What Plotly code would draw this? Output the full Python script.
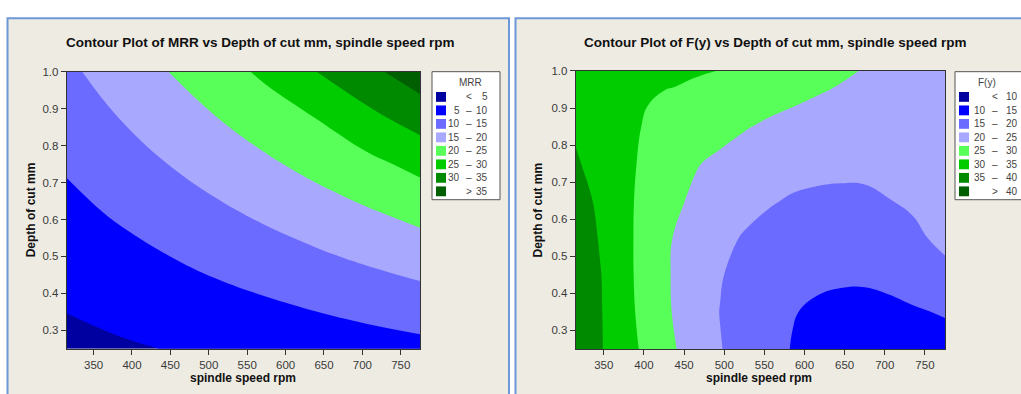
import plotly.graph_objects as go

W, H = 1021, 394

# ---------------- data ----------------
mrr_speed = [315, 380, 445, 510, 575, 640, 705, 775]
mrr_depth = [0.25, 0.375, 0.5, 0.625, 0.75, 0.875, 1.0]
mrr_values = [
    [3.70, 4.40, 5.10, 5.80, 6.50, 7.20, 7.90, 8.65],
    [5.39, 6.44, 7.50, 8.55, 9.59, 10.68, 11.79, 12.98],
    [7.09, 8.49, 9.89, 11.36, 12.84, 14.32, 15.77, 17.32],
    [8.79, 10.57, 12.41, 14.26, 16.08, 17.88, 19.67, 21.64],
    [10.51, 12.73, 14.94, 17.10, 19.26, 21.44, 23.64, 26.37],
    [12.30, 14.89, 17.41, 19.92, 22.48, 25.06, 28.57, 32.14],
    [14.09, 16.99, 19.87, 22.79, 25.99, 29.95, 33.65, 37.59],
]

fy_speed = [315, 345, 375, 405, 435, 465, 495, 525, 555, 585, 615, 645, 675, 705, 735, 775]
fy_depth = [0.25, 0.35, 0.45, 0.55, 0.65, 0.75, 0.85, 0.95, 1.0]
fy_values = [
    [38.5, 35.45, 32.05, 28.72, 25.53, 22.81, 20.18, 18.35, 16.59, 14.8, 13.6, 12.9, 12.7, 12.8, 13.1, 13.5],
    [38.8, 35.4, 31.6, 28.2, 24.95, 22.4, 19.9, 18.3, 16.8, 15.2, 14.4, 14.1, 14.0, 14.2, 14.6, 15.3],
    [39.0, 35.26, 31.4, 27.95, 24.82, 22.54, 20.27, 18.6, 17.3, 16.4, 15.8, 15.5, 15.5, 15.9, 16.8, 18.7],
    [38.2, 34.7, 31.27, 28.07, 25.02, 23.2, 21.38, 19.6, 18.6, 18.0, 17.6, 17.4, 17.5, 18.0, 19.0, 21.2],
    [37.1, 34.1, 31.14, 28.44, 25.92, 24.2, 22.9, 21.7, 20.4, 19.6, 19.3, 19.2, 19.3, 19.9, 20.7, 21.8],
    [35.5, 33.3, 31.08, 29.03, 27.13, 25.24, 24.1, 23.1, 22.3, 21.6, 21.1, 20.9, 20.9, 21.2, 21.7, 22.4],
    [34.4, 32.7, 31.05, 29.6, 28.5, 27.45, 26.4, 25.3, 24.4, 23.7, 23.1, 22.7, 22.5, 22.6, 22.8, 23.2],
    [33.2, 32.4, 31.5, 30.3, 29.9, 29.1, 28.4, 27.6, 26.9, 26.2, 25.4, 24.7, 24.2, 23.9, 23.8, 23.8],
    [33.0, 32.5, 32.0, 31.5, 31.0, 30.45, 29.9, 29.0, 28.2, 27.3, 26.5, 25.6, 24.8, 24.2, 23.9, 23.8],
]

mrr_levels = [5, 10, 15, 20, 25, 30, 35]
fy_levels = [10, 15, 20, 25, 30, 35, 40]

band_colors = ["#0000A0", "#0000FF", "#6B6BFF", "#A8A8FF",
               "#58FF58", "#00CC00", "#008A00", "#005F00"]

x_ticks = [350, 400, 450, 500, 550, 600, 650, 700, 750]
y_ticks = [0.3, 0.4, 0.5, 0.6, 0.7, 0.8, 0.9, 1.0]

titles = ["Contour Plot of MRR vs Depth of cut mm, spindle speed rpm",
          "Contour Plot of F(y) vs Depth of cut mm, spindle speed rpm"]
legend_titles = ["MRR", "F(y)"]

# ---------------- helpers ----------------
def fx(x):
    return x / W

def fy(y):
    return 1 - y / H

FONT = "Liberation Sans"
n = len(band_colors)
cscale = [[i / (n - 1), c] for i, c in enumerate(band_colors)]

fig = go.Figure()

def add_contour(xv, yv, zv, levels, xa, ya):
    fig.add_trace(go.Contour(
        x=xv, y=yv, z=zv, xaxis=xa, yaxis=ya,
        contours=dict(start=levels[0], end=levels[-1], size=levels[1] - levels[0],
                      coloring="fill", showlines=False),
        line=dict(width=0, smoothing=1.2),
        colorscale=cscale, showscale=False, hoverinfo="skip",
    ))

add_contour(mrr_speed, mrr_depth, mrr_values, mrr_levels, "x", "y")
add_contour(fy_speed, fy_depth, fy_values, fy_levels, "x2", "y2")

panels = [
    dict(plot=(66.7, 420.0, 67.0, 348.0), frame=(7.5, 509.0), title_x=260, xt_x=242.5, yt_x=31,
         leg=(432, 500), leg_cols=(462, 469, 490)),
    dict(plot=(575.7, 945.0, 66.0, 348.3), frame=(515.5, 1060), title_x=775.5, xt_x=759, yt_x=537.5,
         leg=(955, 1060), leg_cols=(988, 995, 1020)),
]

axis_common = dict(showgrid=False, zeroline=False, showline=True, linecolor="#333333",
                   linewidth=1, mirror=True, ticks="outside", ticklen=5, tickwidth=1,
                   tickcolor="#333333", tickfont=dict(family=FONT, size=11.5, color="#3a3a3a"))

layout_axes = {}
for i, p in enumerate(panels):
    x0, x1, y0, y1 = p["plot"]
    sfx = "" if i == 0 else str(i + 1)
    layout_axes["xaxis" + sfx] = dict(domain=[fx(x0), fx(x1)], range=[315, 775],
                                      tickvals=x_ticks, anchor="y" + sfx, **axis_common)
    layout_axes["yaxis" + sfx] = dict(domain=[fy(y1), fy(y0)], range=[0.25, 1.0],
                                      tickvals=y_ticks, tickformat=".1f", anchor="x" + sfx,
                                      **axis_common)

shapes = []
annotations = []
for i, p in enumerate(panels):
    x0, x1, y0, y1 = p["plot"]
    f0, f1 = p["frame"]
    shapes.append(dict(type="rect", xref="paper", yref="paper", layer="below",
                       x0=fx(f0), x1=fx(f1), y0=fy(12.5), y1=fy(700),
                       fillcolor="#EEEBE3", line=dict(color="#6C98D8", width=2)))
    annotations.append(dict(text="<b>" + titles[i] + "</b>", x=fx(p["title_x"]), y=fy(37),
                            xref="paper", yref="paper", showarrow=False, xanchor="center",
                            yanchor="middle", font=dict(family=FONT, size=13.5, color="#111111")))
    annotations.append(dict(text="<b>spindle speed rpm</b>", x=fx(p["xt_x"]), y=fy(378),
                            xref="paper", yref="paper", showarrow=False, xanchor="center",
                            yanchor="middle", font=dict(family=FONT, size=12, color="#111111")))
    annotations.append(dict(text="<b>Depth of cut mm</b>", x=fx(p["yt_x"]), y=fy((y0 + y1) / 2),
                            xref="paper", yref="paper", showarrow=False, xanchor="center",
                            yanchor="middle", textangle=-90,
                            font=dict(family=FONT, size=12, color="#111111")))
    # legend box
    lx0, lx1 = p["leg"]
    shapes.append(dict(type="rect", xref="paper", yref="paper", layer="above",
                       x0=fx(lx0), x1=fx(lx1), y0=fy(196.7), y1=fy(66.7),
                       fillcolor="#FFFFFF", line=dict(color="#555555", width=1)))
    c_low, c_sym, c_high = p["leg_cols"]
    annotations.append(dict(text=legend_titles[i], x=fx(470 if i == 0 else 987), y=fy(78),
                            xref="paper", yref="paper", showarrow=False, xanchor="center",
                            yanchor="middle", font=dict(family=FONT, size=10, color="#444444")))
    levels = mrr_levels if i == 0 else fy_levels
    for k in range(n):
        cy = 92.3 + k * 13.7
        shapes.append(dict(type="rect", xref="paper", yref="paper", layer="above",
                           x0=fx(lx0 + 4), x1=fx(lx0 + 14), y0=fy(cy + 5), y1=fy(cy - 5),
                           fillcolor=band_colors[k], line=dict(width=0)))
        if k == 0:
            low, sym, high = "", "<", str(levels[0])
        elif k == n - 1:
            low, sym, high = "", ">", str(levels[-1])
        else:
            low, sym, high = str(levels[k - 1]), "–", str(levels[k])
        for txt, xx, anc in ((low, c_low, "right"), (sym, c_sym, "center"), (high, c_high, "right")):
            if txt:
                annotations.append(dict(text=txt, x=fx(xx), y=fy(cy), xref="paper", yref="paper",
                                        showarrow=False, xanchor=anc, yanchor="middle",
                                        font=dict(family=FONT, size=10, color="#444444")))

fig.update_layout(
    width=W, height=H, margin=dict(l=0, r=0, t=0, b=0),
    paper_bgcolor="#FFFFFF", plot_bgcolor="rgba(0,0,0,0)",
    showlegend=False, shapes=shapes, annotations=annotations,
    **layout_axes,
)

fig.write_html("out.html")
